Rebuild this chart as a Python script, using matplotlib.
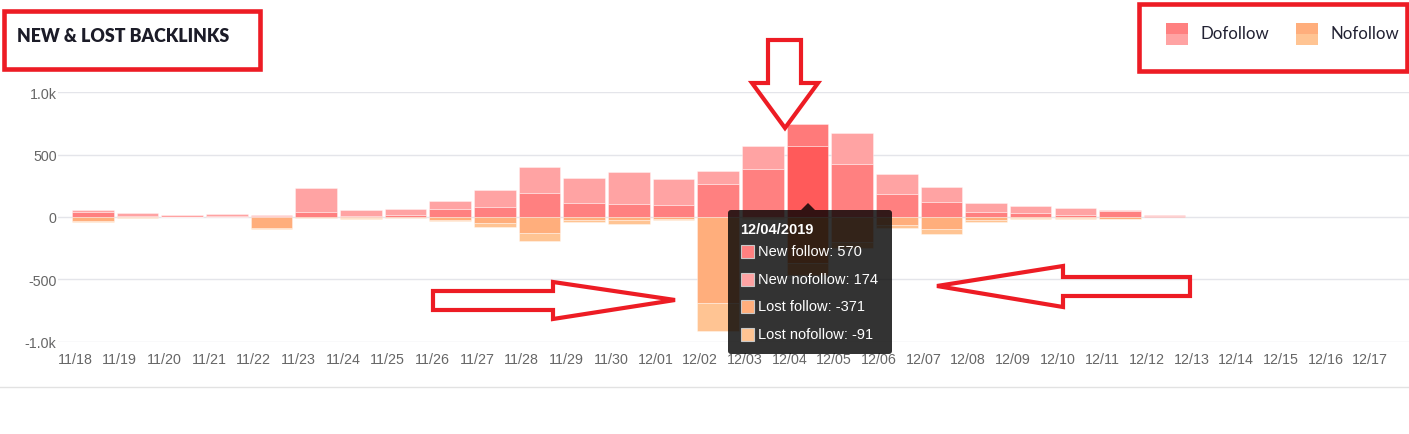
import matplotlib
matplotlib.use("Agg")
import matplotlib.pyplot as plt
import numpy as np
from matplotlib.patches import Rectangle, Polygon, FancyBboxPatch

# ---------------- data ----------------
dates = ["11/18", "11/19", "11/20", "11/21", "11/22", "11/23", "11/24", "11/25",
         "11/26", "11/27", "11/28", "11/29", "11/30", "12/01", "12/02", "12/03",
         "12/04", "12/05", "12/06", "12/07", "12/08", "12/09", "12/10", "12/11",
         "12/12", "12/13", "12/14", "12/15", "12/16", "12/17"]
new_follow = [37, 5, 3, 5, 8, 37, 5, 16, 64, 80, 190, 113, 105, 97, 263, 383,
              570, 426, 182, 121, 38, 29, 13, 48, 10, 0, 0, 0, 0, 0]
new_nofollow = [17, 30, 10, 22, 11, 199, 49, 46, 68, 134, 207, 198, 254, 211, 102, 185,
                174, 247, 160, 123, 72, 62, 57, 11, 3, 0, 0, 0, 0, 0]
lost_follow = [-30, -3, -2, -2, -92, -5, -10, -6, -22, -51, -131, -21, -27, -13, -689, -12,
               -371, -200, -67, -99, -24, -8, -10, -13, 0, 0, 0, 0, 0, 0]
lost_nofollow = [-10, -2, -1, -1, -7, -3, -6, -3, -12, -27, -62, -19, -27, -14, -222, -6,
                 -91, -50, -19, -35, -16, -5, -9, -6, 0, 0, 0, 0, 0, 0]
highlight_date = "12/04"
tooltip_title = "12/04/2019"
y_ticks = [-1000, -500, 0, 500, 1000]
y_tick_labels = ["-1.0k", "-500", "0", "500", "1.0k"]
legend_labels = ["Dofollow", "Nofollow"]
title_text = "NEW & LOST BACKLINKS"

# ---------------- style ----------------
C_NF = "#ff8080"
C_NNF = "#ffa3a3"
C_LF = "#ffae7c"
C_LNF = "#ffc493"
H_NF = "#ff5a5a"
H_NNF = "#ff7a7a"
H_LF = "#ff9a62"
H_LNF = "#ffb47c"
RED = "#ed1c24"
GRID = "#e4e5ea"

W, H = 1409, 435
fig = plt.figure(figsize=(W / 100, H / 100), dpi=100)
fig.patch.set_facecolor("white")

def px_axes(x0, y0, x1, y1):
    return [x0 / W, 1 - y1 / H, (x1 - x0) / W, (y1 - y0) / H]

ax = fig.add_axes(px_axes(58, 93.3, 1409, 342.7))
n = len(dates)
xi = np.arange(n)
off = 0.40
bw = 0.93
hi = dates.index(highlight_date)

nf = np.array(new_follow)
nnf = np.array(new_nofollow)
lf = np.array(lost_follow)
lnf = np.array(lost_nofollow)

def draw(vals, bottom, base_c, hi_c):
    cols = [hi_c if i == hi else base_c for i in range(n)]
    edges = [(1, 1, 1, 0.35) if v != 0 else (0, 0, 0, 0) for v in vals]
    ax.bar(xi + off, vals, width=bw, bottom=bottom, color=cols, edgecolor=edges,
           linewidth=0.7, zorder=3)

draw(nf, None, C_NF, H_NF)
draw(nnf, nf, C_NNF, H_NNF)
draw(lf, None, C_LF, H_LF)
draw(lnf, lf, C_LNF, H_LNF)

ax.set_xlim(-0.38, 29.87)
ax.set_ylim(-1000, 1000)
ax.set_yticks(y_ticks)
ax.set_yticklabels(y_tick_labels)
ax.set_xticks(xi)
ax.set_xticklabels(dates)
ax.grid(axis="y", color=GRID, linewidth=1.0, zorder=0)
ax.grid(axis="x", visible=False)
for s in ax.spines.values():
    s.set_visible(False)
ax.tick_params(axis="both", length=0, labelcolor="#666666", labelsize=10.3)
ax.tick_params(axis="y", pad=1)
ax.tick_params(axis="x", pad=7.5)
for lab in ax.get_xticklabels() + ax.get_yticklabels():
    lab.set_fontfamily("Liberation Sans")
ax.set_facecolor("none")

# ---------------- overlay in pixel coords ----------------
ov = fig.add_axes([0, 0, 1, 1], zorder=10)
ov.set_xlim(0, W)
ov.set_ylim(H, 0)
ov.axis("off")
ov.patch.set_visible(False)

# bottom line
ov.plot([0, W], [388, 388], color="#e2e2e2", lw=1)

# title & legend
ov.text(17, 37, title_text, fontsize=12.8, fontweight="heavy", family="Lato",
        color="#1c1c28", va="center", ha="left")
leg_cols = [(C_NF, C_NNF), (C_LF, C_LNF)]
leg_x = [1166, 1296]
for (ct, cb), lx, lab in zip(leg_cols, leg_x, legend_labels):
    ov.add_patch(Rectangle((lx, 24), 22, 11, facecolor=ct, edgecolor="none"))
    ov.add_patch(Rectangle((lx, 35), 22, 11, facecolor=cb, edgecolor="none"))
    ov.text(lx + 35, 34, lab, fontsize=12.2, family="Lato", color="#222233",
            va="center", ha="left")

# red boxes
ov.add_patch(Rectangle((3.5, 11.5), 256, 58, fill=False, edgecolor=RED, lw=3.3))
ov.add_patch(Rectangle((1138.5, 4.5), 268, 67, fill=False, edgecolor=RED, lw=3.3))

# red arrows (outlines)
down = [(768, 41), (801, 41), (801, 84), (818, 84), (785, 129), (752, 84), (768, 84)]
right = [(433, 292), (553, 292), (553, 283), (675, 301), (553, 320), (553, 311), (433, 311)]
left = [(1190, 278), (1063, 278), (1063, 267), (937, 287), (1063, 308), (1063, 297), (1190, 297)]
for pts in (down, right, left):
    ov.add_patch(Polygon(pts, closed=True, fill=False, edgecolor=RED, lw=3.0, joinstyle="miter"))

# tooltip
ov.add_patch(FancyBboxPatch((728, 211), 164, 144, boxstyle="round,pad=0,rounding_size=3",
                            facecolor="black", edgecolor="none", alpha=0.8))
ov.add_patch(Polygon([(801, 211), (815, 211), (808, 204)], closed=True,
                     facecolor="black", edgecolor="none", alpha=0.8))
ov.text(740, 230, tooltip_title, fontsize=10.5, fontweight="bold", color="white",
        family="Liberation Sans", va="center", ha="left")
hi_vals = [new_follow[hi], new_nofollow[hi], lost_follow[hi], lost_nofollow[hi]]
names = ["New follow", "New nofollow", "Lost follow", "Lost nofollow"]
sq_cols = [C_NF, C_NNF, C_LF, C_LNF]
row_y = [252.5, 280, 307.5, 335]
for nm, v, c, ry in zip(names, hi_vals, sq_cols, row_y):
    ov.add_patch(Rectangle((740.5, ry - 6.5), 13, 13, facecolor=c, edgecolor="#c8c8c8", lw=0.8))
    ov.text(757.5, ry, f"{nm}: {v}", fontsize=10.5, color="white",
            family="Liberation Sans", va="center", ha="left")

fig.savefig("out.png", dpi=100, facecolor="white")
